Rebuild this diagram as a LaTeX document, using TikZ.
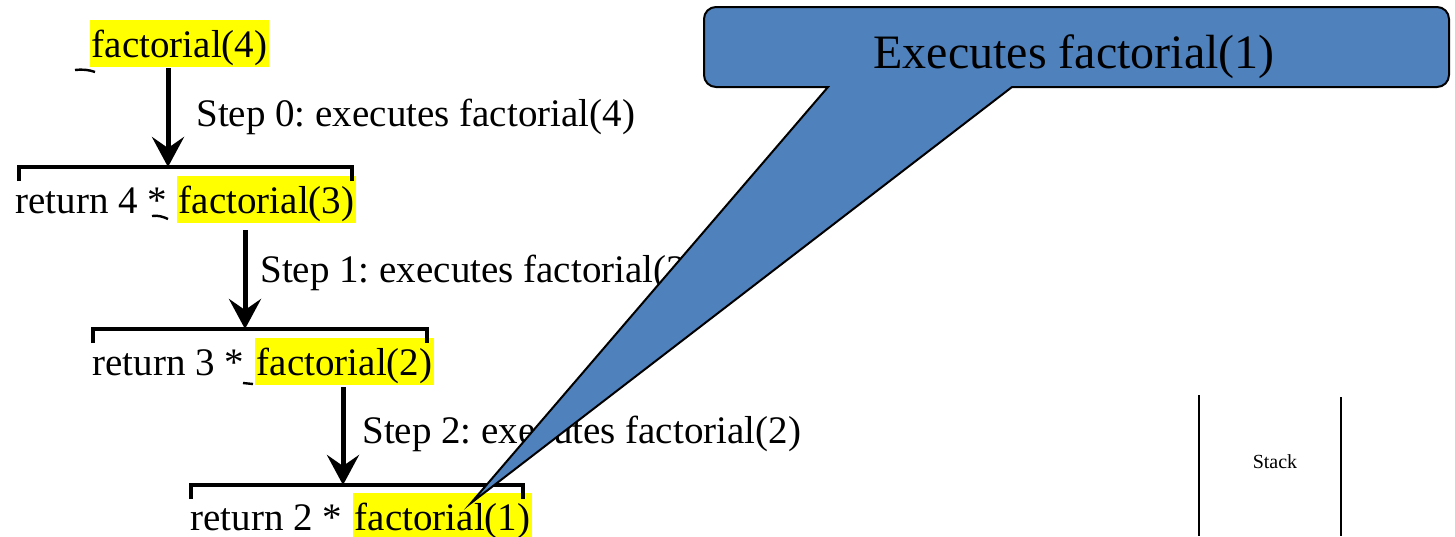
\documentclass[tikz,border=0pt]{standalone}
\usepackage{fontspec}
\setmainfont{Liberation Serif}
\usetikzlibrary{arrows.meta}
\definecolor{hlyellow}{RGB}{255,255,0}
\definecolor{callblue}{RGB}{79,129,189}
\frenchspacing
\begin{document}
\begin{tikzpicture}[x=0.5pt,y=-0.5pt,
  txt/.style={inner sep=0pt, anchor=base west, font=\fontsize{19.5pt}{23pt}\selectfont},
  hl/.style={txt, fill=hlyellow, inner xsep=0.75pt, text height=18.5pt, text depth=5pt},
  arr/.style={line width=2.5pt, -{Stealth[length=15pt,width=16pt,inset=5.5pt]}},
  brk/.style={line width=2pt},
  stackline/.style={line width=1pt},
  stray/.style={line width=1.2pt},
  callout/.style={fill=callblue, draw=black, line width=1pt},
]
\useasboundingbox (0,0) rectangle (1455,536);

% texts
\node[hl] (f4) at (90,57) {factorial(4)};
\node[txt] (s0) at (196,126) {Step 0: executes factorial(4)};
\node[txt] (r4) at (15,213) {return 4 *};
\node[hl] (f3) at (177,213) {factorial(3)};
\node[txt] (s1) at (260,282) {Step 1: executes factorial(3)};
\node[txt] (r3) at (92,375) {return 3 *};
\node[hl] (f2) at (255,375) {factorial(2)};
\node[txt] (s2) at (362,443) {Step 2: executes factorial(2)};
\node[txt] (r2) at (190,530) {return 2 *};
\node[hl] (f1) at (353,530) {factorial(1)};

% brackets
\coordinate (b1) at (168,167);
\coordinate (b2) at (245,329);
\coordinate (b3) at (343,485);
\draw[brk] (19,181) -- (19,167) -- (352,167) -- (352,181);
\draw[brk] (93,343) -- (93,329) -- (427,329) -- (427,343);
\draw[brk] (191,499) -- (191,485) -- (523,485) -- (523,499);

% arrows
\coordinate (a1) at (168,68);
\coordinate (a2) at (245,230);
\coordinate (a3) at (343,387);
\draw[arr] (a1) -- (b1);
\draw[arr] (a2) -- (b2);
\draw[arr] (a3) -- (b3);

% stray marks
\draw[stray] (75,70) .. controls (82,69) and (90,70) .. (95,72);
\draw[stray] (152,216) .. controls (158,215) and (164,217) .. (168,219);
\draw[stray] (243,383) -- (253,384);

% stack
\draw[stackline] (1199,395) -- (1199,536);
\draw[stackline] (1341,397) -- (1341,536);
\node[anchor=base, inner sep=0pt, font=\fontsize{10pt}{12pt}\selectfont] (stk) at (1275,468) {Stack};

% callout
\draw[callout] (828,87) -- (471,503) -- (1012,87) -- (1437,87)
  arc[start angle=-90, end angle=0, radius=6pt] -- (1449,19)
  arc[start angle=0, end angle=90, radius=6pt] -- (716,7)
  arc[start angle=90, end angle=180, radius=6pt] -- (704,75)
  arc[start angle=180, end angle=270, radius=6pt] -- cycle;
\node[anchor=base, inner sep=0pt, font=\fontsize{24pt}{28pt}\selectfont] (ct) at (1074,68) {Executes factorial(1)};
\end{tikzpicture}
\end{document}
